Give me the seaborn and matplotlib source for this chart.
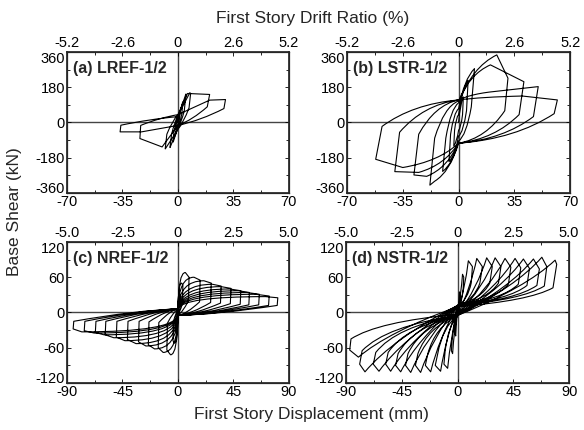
import matplotlib
matplotlib.use('Agg')
import matplotlib.pyplot as plt
import numpy as np
import pandas as pd
import seaborn as sns
from matplotlib.path import Path

# ---- data (mm, kN) ----
# each half cycle: max point, peak point, knee after unloading, force where branch returns to d=0

# (a) LREF-1/2
a_pos_max_d = [1.5, 3.0, 5.0, 7.5, 6.0, 20.0]
a_pos_max_f = [60, 105, 145, 152, 148, 114]
a_pos_peak_d = [1.5, 3.0, 5.0, 8.0, 20.0, 30.0]
a_pos_peak_f = [60, 105, 140, 148, 143, 117]
a_pos_knee_d = [1.0, 2.5, 4.0, 7.0, 18.5, 29.0]
a_pos_knee_f = [25, 45, 60, 75, 80, 71]
a_pos_cross = [-15, -25, -30, -35, -15, -15]
a_neg_max_d = [-1.5, -3.0, -5.0, -8.0, -10.0, -23.0]
a_neg_max_f = [-60, -100, -128, -135, -125, -48]
a_neg_peak_d = [-1.5, -3.0, -5.0, -8.0, -24.0, -36.5]
a_neg_peak_f = [-60, -100, -125, -132, -82, -48]
a_neg_knee_d = [-1.0, -2.5, -4.0, -7.0, -23.5, -36.0]
a_neg_knee_f = [-25, -45, -60, -60, -15, -14]
a_neg_cross = [15, 25, 35, 40, 40, 30]

# (b) LSTR-1/2
b_pos_max_d = [3, 6, 10, 24, 20, 25, 40]
b_pos_max_f = [130, 215, 275, 345, 294, 160, 135]
b_pos_peak_d = [3, 6, 10, 31, 41, 50, 62]
b_pos_peak_f = [130, 215, 275, 226, 208, 183, 115]
b_pos_knee_d = [2.5, 5, 8, 29, 38, 47, 60]
b_pos_knee_f = [40, 60, 80, 60, 40, 30, 45]
b_pos_cross = [-40, -70, -95, -106, -106, -106, -106]
b_neg_max_d = [-3, -6, -10, -15, -20, -25, -35]
b_neg_max_f = [-120, -200, -250, -300, -275, -255, -230]
b_neg_peak_d = [-3, -6, -10, -18, -28, -40, -52]
b_neg_peak_f = [-120, -200, -250, -320, -268, -251, -188]
b_neg_knee_d = [-2.5, -5, -8, -15, -25, -37, -48]
b_neg_knee_f = [-40, -60, -80, -80, -60, -50, -20]
b_neg_cross = [40, 70, 100, 110, 115, 115, 115]

# (c) NREF-1/2
c_pos_max_d = [1.5, 3, 6, 13, 21, 28, 35, 42, 49, 56, 63, 71]
c_pos_max_f = [30, 50, 68, 60, 54, 48, 44, 40, 37, 34, 31, 27]
c_pos_peak_d = [2, 4, 9, 18, 27, 35, 43, 51, 58, 66, 74, 81]
c_pos_peak_f = [28, 46, 60, 55, 50, 45, 41, 37, 34, 31, 28, 25]
c_pos_knee_d = [1.8, 3.6, 8.5, 17.5, 26.5, 34.5, 42.5, 50.5, 57.5, 65.5, 73.5, 80.5]
c_pos_knee_f = [10, 15, 20, 18, 17, 16, 15, 14, 13, 13, 12, 12]
c_pos_cross = [-2, -3, -4, -5, -5, -5, -5, -5, -5, -5, -5, -5]
c_neg_max_d = [-1.5, -3, -6, -12, -19, -26, -34, -43, -52, -60, -68, -78]
c_neg_max_f = [-30, -52, -72, -68, -62, -57, -53, -48, -43, -38, -35, -33]
c_neg_peak_d = [-2, -4, -9, -16, -24, -32, -41, -50, -59, -67, -76, -85]
c_neg_peak_f = [-28, -48, -64, -60, -55, -50, -46, -42, -38, -34, -31, -28]
c_neg_knee_d = [-1.8, -3.6, -8.5, -15.5, -23.5, -31.5, -40.5, -49.5, -58.5, -66.5, -75.5, -84.5]
c_neg_knee_f = [-10, -15, -18, -17, -16, -15, -15, -15, -15, -15, -15, -15]
c_neg_cross = [3, 4, 5, 6, 6, 6, 6, 6, 6, 6, 6, 6]

# (d) NSTR-1/2
d_pos_max_d = [1.5, 4, 8.7, 15.5, 23.5, 30.3, 38.3, 46.4, 53.1, 61.2, 68, 78.7]
d_pos_max_f = [35, 65, 88, 92, 93, 93, 92, 92, 91, 91, 94, 89]
d_pos_peak_d = [2, 5, 12, 20, 28, 35, 43, 51, 58, 66, 72, 80]
d_pos_peak_f = [30, 60, 78, 78, 78, 78, 77, 76, 75, 74, 78, 82]
d_pos_knee_d = [1.8, 4.5, 11, 18, 26, 33, 41, 49, 56, 64, 70, 77]
d_pos_knee_f = [20, 40, 50, 50, 50, 50, 48, 48, 46, 46, 45, 42]
d_pos_cross = [5, 8, 10, 10, 12, 12, 12, 12, 12, 12, 12, 10]
d_neg_max_d = [-1.5, -4, -8, -13.7, -21.7, -29.8, -37.8, -45.9, -54, -63.4, -74.7, -80]
d_neg_max_f = [-40, -70, -95, -100, -101, -102, -102, -101, -100, -100, -101, -76]
d_neg_peak_d = [-2, -5, -11, -18, -26, -34, -42, -50, -58, -68, -79, -87]
d_neg_peak_f = [-35, -65, -88, -90, -90, -90, -90, -90, -88, -88, -88, -64]
d_neg_knee_d = [-1.8, -4.5, -10, -16, -24, -32, -40, -48, -56, -66, -77, -86]
d_neg_knee_f = [-25, -50, -65, -70, -70, -70, -70, -70, -68, -68, -65, -45]
d_neg_cross = [-3, -5, -5, -5, -5, -5, -5, -5, -5, -5, -5, -3]

# axis ticks
ticks_l_x = [-70, -35, 0, 35, 70]
ticks_l_y = [-360, -180, 0, 180, 360]
ticks_l_top = ['-5.2', '-2.6', '0', '2.6', '5.2']
ticks_n_x = [-90, -45, 0, 45, 90]
ticks_n_y = [-120, -60, 0, 60, 120]
ticks_n_top = ['-5.0', '-2.5', '0', '2.5', '5.0']


def add_half(verts, codes, s, md, mf, pk_d, pk_f, kd, kf, c, load, unload):
    la, lb = load
    ua, ub = unload
    verts += [(la * md, s + lb * (mf - s)), (md, mf), (pk_d, pk_f), (kd, kf),
              (ua * kd, c + ub * (kf - c)), (0.0, c)]
    codes += [Path.CURVE3, Path.CURVE3, Path.LINETO, Path.LINETO,
              Path.CURVE3, Path.CURVE3]
    return c


def loop_frame(pos, neg, load, unload):
    verts, codes = [(0.0, 0.0)], [Path.MOVETO]
    s = 0.0
    for i in range(len(pos[0])):
        s = add_half(verts, codes, s, *[v[i] for v in pos], load, unload)
        s = add_half(verts, codes, s, *[v[i] for v in neg], load, unload)
    xy = np.concatenate(Path(verts, codes).to_polygons(closed_only=False))
    return pd.DataFrame({'disp': xy[:, 0], 'shear': xy[:, 1]})


df_a = loop_frame((a_pos_max_d, a_pos_max_f, a_pos_peak_d, a_pos_peak_f, a_pos_knee_d, a_pos_knee_f, a_pos_cross),
                  (a_neg_max_d, a_neg_max_f, a_neg_peak_d, a_neg_peak_f, a_neg_knee_d, a_neg_knee_f, a_neg_cross),
                  (0.5, 0.5), (0.5, 0.3))
df_b = loop_frame((b_pos_max_d, b_pos_max_f, b_pos_peak_d, b_pos_peak_f, b_pos_knee_d, b_pos_knee_f, b_pos_cross),
                  (b_neg_max_d, b_neg_max_f, b_neg_peak_d, b_neg_peak_f, b_neg_knee_d, b_neg_knee_f, b_neg_cross),
                  (0.35, 0.75), (0.6, 0.15))
df_c = loop_frame((c_pos_max_d, c_pos_max_f, c_pos_peak_d, c_pos_peak_f, c_pos_knee_d, c_pos_knee_f, c_pos_cross),
                  (c_neg_max_d, c_neg_max_f, c_neg_peak_d, c_neg_peak_f, c_neg_knee_d, c_neg_knee_f, c_neg_cross),
                  (0.05, 1.0), (0.4, 0.1))
df_d = loop_frame((d_pos_max_d, d_pos_max_f, d_pos_peak_d, d_pos_peak_f, d_pos_knee_d, d_pos_knee_f, d_pos_cross),
                  (d_neg_max_d, d_neg_max_f, d_neg_peak_d, d_neg_peak_f, d_neg_knee_d, d_neg_knee_f, d_neg_cross),
                  (0.7, 0.5), (0.75, 0.3))

sns.set_theme(style='ticks')
plt.rcParams['font.family'] = ['Liberation Sans', 'DejaVu Sans']
plt.rcParams['axes.unicode_minus'] = False

fig = plt.figure(figsize=(5.84, 4.30), dpi=100)


def draw_panel(rect, df, xt, yt, top_labels, label):
    ax = fig.add_axes(rect)
    sns.lineplot(data=df, x='disp', y='shear', sort=False, estimator=None,
                 color='black', lw=0.8, ax=ax)
    ax.axhline(0, color='#444444', lw=1.0, zorder=0)
    ax.axvline(0, color='#444444', lw=1.0, zorder=0)
    ax.set_xlim(xt[0], xt[-1])
    ax.set_ylim(yt[0], yt[-1])
    ax.set_xticks(xt)
    ax.set_yticks(yt)
    ax.set_xticks([(xt[i] + xt[i + 1]) / 2 for i in range(4)], minor=True)
    ax.set_yticks([(yt[i] + yt[i + 1]) / 2 for i in range(4)], minor=True)
    ax.set_xlabel('')
    ax.set_ylabel('')
    ax.tick_params(which='both', direction='in', right=True, labelsize=10.5,
                   colors='black', pad=1.5)
    ax.tick_params(which='major', length=3, width=0.6)
    ax.tick_params(which='minor', length=2, width=0.6)
    ylabels = ax.get_yticklabels()
    ylabels[0].set_va('baseline')
    ylabels[-1].set_va('top')
    for sp in ax.spines.values():
        sp.set_color('#333333')
        sp.set_linewidth(0.9)
    top = ax.twiny()
    top.set_xlim(ax.get_xlim())
    top.set_xticks(xt, top_labels)
    top.set_xticks([(xt[i] + xt[i + 1]) / 2 for i in range(4)], minor=True)
    top.tick_params(which='both', direction='in', labelsize=10.5, colors='black', pad=1.5)
    top.tick_params(which='major', length=3, width=0.6)
    top.tick_params(which='minor', length=2, width=0.6)
    ax.text(0.025, 0.935, label, transform=ax.transAxes, fontsize=11.5,
            fontweight='bold', va='top', ha='left')
    return ax


draw_panel([0.1147, 0.5512, 0.380, 0.328], df_a, ticks_l_x, ticks_l_y, ticks_l_top, '(a) LREF-1/2')
draw_panel([0.5942, 0.5512, 0.382, 0.328], df_b, ticks_l_x, ticks_l_y, ticks_l_top, '(b) LSTR-1/2')
draw_panel([0.1147, 0.1093, 0.380, 0.328], df_c, ticks_n_x, ticks_n_y, ticks_n_top, '(c) NREF-1/2')
draw_panel([0.5925, 0.1093, 0.382, 0.328], df_d, ticks_n_x, ticks_n_y, ticks_n_top, '(d) NSTR-1/2')

fig.text(0.535, 0.957, 'First Story Drift Ratio (%)', ha='center', va='center', fontsize=12.5)
fig.text(0.533, 0.035, 'First Story Displacement (mm)', ha='center', va='center', fontsize=12.5)
fig.text(0.024, 0.509, 'Base Shear (kN)', ha='center', va='center', rotation=90, fontsize=12.5)

fig.savefig('out.png', dpi=100)
